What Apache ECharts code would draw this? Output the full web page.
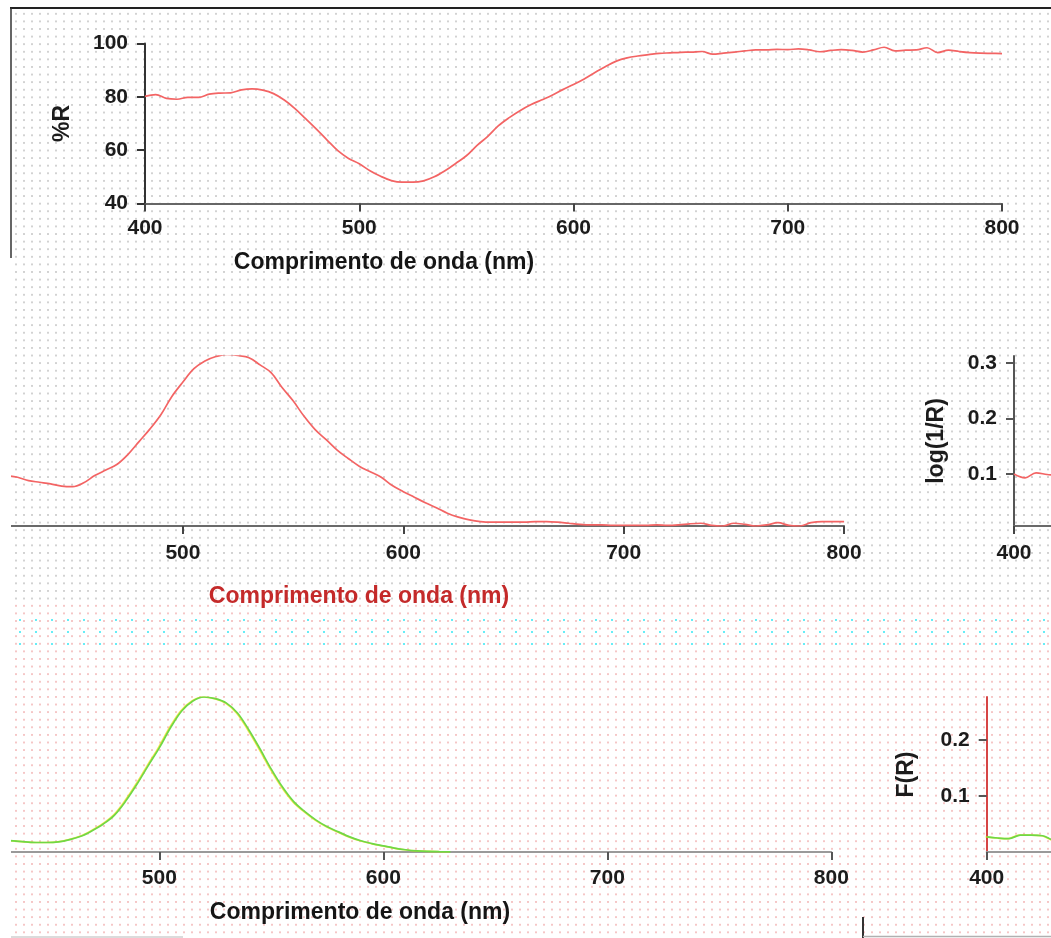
<!DOCTYPE html>
<html>
<head>
<meta charset="utf-8">
<title>Espectros de reflectância</title>
<script src="https://cdn.jsdelivr.net/npm/echarts@6/dist/echarts.min.js"></script>
<style>
  html, body { margin: 0; padding: 0; background: #fff; }
  #wrap { position: relative; width: 1051px; height: 938px; overflow: hidden; background: #fff; }
  .dots { position: absolute; left: 12px; right: 0; background-size: 8px 7.6px; }
  #dotsA { top: 10px; height: 592px; background-image: radial-gradient(circle, #d2d2d2 0.8px, transparent 1.3px); }
  #dotsB { top: 602px; bottom: 0; background-image: radial-gradient(circle, #f5c6c6 0.8px, transparent 1.3px); }
  #noise { position: absolute; left: 12px; right: 0; top: 614px; height: 36px;
           background-image: radial-gradient(circle, rgba(0,225,240,0.6) 0.9px, transparent 1.5px);
           background-size: 16px 12px; }
  #chart { position: absolute; left: 0; top: 0; width: 1051px; height: 938px; }
</style>
</head>
<body>
<div id="wrap">
  <div class="dots" id="dotsA"></div>
  <div class="dots" id="dotsB"></div>
  <div id="noise"></div>
  <div id="chart"></div>
</div>
<script>
// Comprimento de onda (nm), passo de 5 nm
const wavelength = [400,405,410,415,420,425,430,435,440,445,450,455,460,465,470,475,480,485,490,495,500,505,510,515,520,525,530,535,540,545,550,555,560,565,570,575,580,585,590,595,600,605,610,615,620,625,630,635,640,645,650,655,660,665,670,675,680,685,690,695,700,705,710,715,720,725,730,735,740,745,750,755,760,765,770,775,780,785,790,795,800];

// Reflectância (%R)
const reflectance = [80.2,80.8,79.4,79.1,79.8,79.8,81.0,81.4,81.5,82.6,83.0,82.5,81.2,
  78.8,75.6,71.8,67.9,63.8,59.8,56.9,54.9,52.3,50.2,48.6,48.0,48.0,
  48.5,50.0,52.3,55.0,57.9,61.8,65.2,69.2,72.2,74.8,77.0,78.8,80.6,
  82.7,84.6,86.7,89.1,91.4,93.4,94.6,95.3,95.8,96.3,96.5,96.7,96.8,
  97.0,96.0,96.4,96.8,97.2,97.6,97.6,97.8,97.7,98.0,97.6,96.9,97.4,
  97.7,97.4,96.8,97.6,98.6,97.2,97.5,97.6,98.4,96.6,97.5,97.0,96.6,
  96.4,96.3,96.2];

// log(1/R)
const logInvR = [0.100,0.093,0.102,0.099,0.097,0.094,0.088,0.085,0.082,0.078,0.077,0.084,0.097,
  0.107,0.117,0.135,0.158,0.181,0.207,0.240,0.266,0.290,0.304,0.312,0.316,0.314,
  0.310,0.297,0.283,0.256,0.232,0.204,0.180,0.162,0.143,0.128,0.114,0.104,0.094,
  0.079,0.068,0.058,0.048,0.039,0.029,0.022,0.017,0.014,0.013,0.013,0.013,0.013,
  0.014,0.014,0.013,0.011,0.009,0.008,0.008,0.007,0.007,0.007,0.007,0.008,0.007,
  0.008,0.010,0.011,0.007,0.006,0.011,0.009,0.006,0.008,0.012,0.007,0.006,0.012,
  0.014,0.014,0.014];

// F(R) de Kubelka-Munk, de 400 a 630 nm
const kubelkaMunk = [0.027,0.025,0.024,0.030,0.030,0.029,0.021,0.020,0.018,0.017,0.017,0.018,0.022,
  0.028,0.038,0.050,0.066,0.091,0.121,0.154,0.186,0.222,0.252,0.270,0.277,0.274,
  0.266,0.248,0.218,0.184,0.148,0.116,0.090,0.072,0.057,0.045,0.036,0.027,0.020,
  0.015,0.011,0.007,0.004,0.002,0.001,0.0005,0.0002];

// Marcas dos eixos
const nmTicks = [400, 500, 600, 700, 800];
const pctTicks = [40, 60, 80, 100];
const logTicks = [0.1, 0.2, 0.3];
const kmTicks = [0.1, 0.2];
const xTitle = 'Comprimento de onda (nm)';

const FONT = '"Liberation Sans", Arial, Helvetica, sans-serif';

const grids = [], xAxes = [], yAxes = [], series = [];

function addPanel(p) {
  const idx = grids.length;
  grids.push({ left: p.left, top: p.top, width: p.width, height: p.height,
               containLabel: false, outerBoundsMode: 'none' });
  const labelBase = { fontFamily: FONT, fontWeight: 'bold', fontSize: 21, color: '#1c1c1c' };
  if (p.fringe) Object.assign(labelBase, { textShadowColor: p.fringe, textShadowOffsetX: -1.2, textShadowBlur: 0 });
  xAxes.push({
    type: 'value', gridIndex: idx, min: 400, max: 800,
    axisLine: { show: true, onZero: false, lineStyle: { color: p.xLine, width: 2 } },
    axisTick: { show: true, length: 8, customValues: nmTicks, lineStyle: { color: p.xTick || p.xLine, width: 2 } },
    axisLabel: Object.assign({ margin: p.xMargin, customValues: nmTicks }, labelBase),
    splitLine: { show: false }, z: 1
  });
  yAxes.push({
    type: 'value', gridIndex: idx, min: p.yMin, max: p.yMax,
    name: p.yName, nameLocation: 'middle', nameGap: p.nameGap, nameRotate: 90, nameMoveOverlap: false,
    nameTextStyle: Object.assign({}, labelBase, { fontSize: 23 }),
    axisLine: { show: true, onZero: false, lineStyle: { color: p.yLine, width: 2 } },
    axisTick: { show: true, length: 8, customValues: p.yTicks, lineStyle: { color: p.yTick || p.yLine, width: 2 } },
    axisLabel: Object.assign({ margin: 17, customValues: p.yTicks }, labelBase),
    splitLine: { show: false }, z: 1
  });
  series.push({
    type: 'line', xAxisIndex: idx, yAxisIndex: idx,
    data: p.values.map((v, i) => [wavelength[i], v]),
    showSymbol: false, smooth: 0.35, clip: true, z: 3,
    lineStyle: Object.assign({ color: p.color, width: 1.7 }, p.lineExtra || {}),
    silent: true, animation: false
  });
}

// Painel 1: %R
addPanel({ left: 145, top: 43.5, width: 857, height: 160,
  yMin: 40, yMax: 100, yTicks: pctTicks, yName: '%R', nameGap: 71,
  xLine: '#666', xTick: '#444', yLine: '#333', xMargin: 14,
  values: reflectance, color: '#f36464' });

// Painel 2: log(1/R) – desenhado em duas cópias deslocadas horizontalmente
const logBox = { top: 356, width: 881.6, height: 170, yMin: 0.006, yMax: 0.313,
  yTicks: logTicks, yName: 'log(1/R)', nameGap: 66,
  xLine: '#6a6a6a', xTick: '#444', yLine: '#555', xMargin: 17,
  values: logInvR, color: '#f36464' };
addPanel(Object.assign({ left: -37.5 }, logBox));
addPanel(Object.assign({ left: 1014 }, logBox));

// Painel 3: F(R) – também em duas cópias
const kmBox = { top: 697, width: 896, height: 155, yMin: 0, yMax: 0.277,
  yTicks: kmTicks, yName: 'F(R)', nameGap: 68.5,
  xLine: '#9a9a9a', xTick: '#555', yLine: '#d64545', yTick: '#555', xMargin: 15.5,
  fringe: 'rgba(225,30,30,0.75)',
  values: kubelkaMunk, color: '#6fd846',
  lineExtra: { shadowColor: 'rgba(240,220,0,0.7)', shadowOffsetX: -1, shadowBlur: 0 } };
addPanel(Object.assign({ left: -64.7 }, kmBox));
addPanel(Object.assign({ left: 986.7 }, kmBox));

const titleFont = 'bold 23px ' + FONT;

const option = {
  animation: false,
  grid: grids,
  xAxis: xAxes,
  yAxis: yAxes,
  series: series,
  graphic: [
    // moldura superior
    { type: 'line', shape: { x1: 10, y1: 8, x2: 1051, y2: 8 }, style: { stroke: '#222', lineWidth: 2 }, z: 50 },
    { type: 'line', shape: { x1: 11, y1: 8, x2: 11, y2: 258 }, style: { stroke: '#333', lineWidth: 1.5 }, z: 50 },
    // margem esquerda em branco
    { type: 'rect', shape: { x: 0, y: 259, width: 11, height: 679 }, style: { fill: '#fff' }, z: 100 },
    // cantos inferiores
    { type: 'line', shape: { x1: 863, y1: 917, x2: 863, y2: 938 }, style: { stroke: '#333', lineWidth: 2 }, z: 50 },
    { type: 'line', shape: { x1: 863, y1: 936.5, x2: 1051, y2: 936.5 }, style: { stroke: '#b0b0b0', lineWidth: 1.5 }, z: 50 },
    { type: 'line', shape: { x1: 10, y1: 937, x2: 183, y2: 937 }, style: { stroke: '#cfcfcf', lineWidth: 1.5 }, z: 50 },
    // títulos dos eixos x
    { type: 'text', x: 384, y: 263, z: 60,
      style: { text: xTitle, font: titleFont, fill: '#151515', align: 'center', verticalAlign: 'middle' } },
    { type: 'text', x: 359, y: 597, z: 60,
      style: { text: xTitle, font: titleFont, fill: '#c42a2a', align: 'center', verticalAlign: 'middle',
               textShadowColor: 'rgba(0,210,230,0.8)', textShadowOffsetX: 1.5, textShadowBlur: 0 } },
    { type: 'text', x: 360, y: 913, z: 60,
      style: { text: xTitle, font: titleFont, fill: '#151515', align: 'center', verticalAlign: 'middle',
               textShadowColor: 'rgba(225,30,30,0.8)', textShadowOffsetX: -1.5, textShadowBlur: 0 } }
  ]
};

const chart = echarts.init(document.getElementById('chart'), null, { renderer: 'canvas' });
chart.setOption(option);
</script>
</body>
</html>
